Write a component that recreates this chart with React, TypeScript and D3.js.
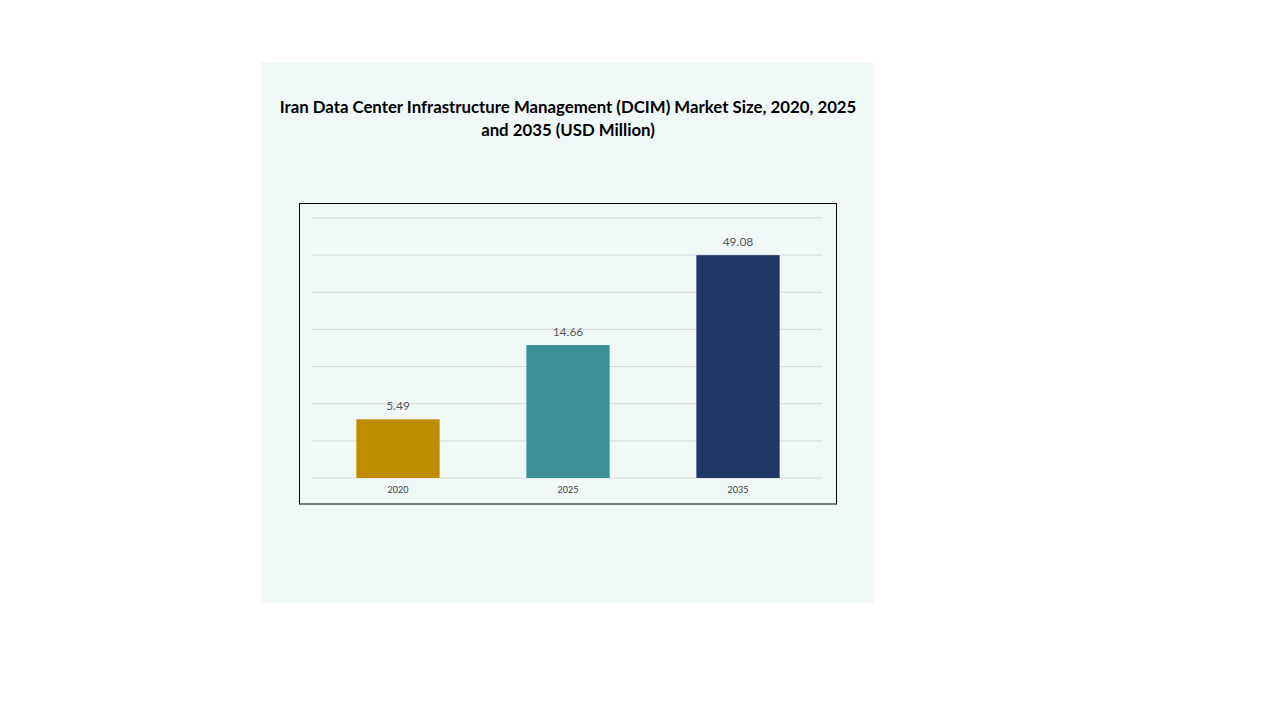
import { useRef, useEffect } from "react";
import * as d3 from "d3";

const FONT = "'Lato', 'Noto Sans', sans-serif";

const TITLE_LINES = [
  "Iran Data Center Infrastructure Management (DCIM) Market Size, 2020, 2025",
  "and 2035 (USD Million)",
];
const YEARS = ["2020", "2025", "2035"];
const VALUES = [5.49, 14.66, 49.08];
// bar heights (the chart's hidden axis, 7 grid steps)
const BAR_LEVELS = [1.58, 3.58, 6.0];
const GRID_TICKS = [0, 1, 2, 3, 4, 5, 6, 7];
const BAR_COLORS = ["#BF8D00", "#3B8F98", "#203864"];

const W = 1280;
const H = 720;

export default function App() {
  const ref = useRef<SVGSVGElement>(null);

  useEffect(() => {
    document.body.style.margin = "0";
    if (!ref.current) return;
    const svg = d3.select(ref.current);
    svg.selectAll("*").remove();

    // panel
    svg.append("rect")
      .attr("x", 261).attr("y", 62).attr("width", 613).attr("height", 541)
      .attr("fill", "#F1F8F8");

    // title
    const title = svg.append("text")
      .attr("text-anchor", "middle")
      .attr("font-family", FONT).attr("font-weight", 700)
      .attr("font-size", "16.8px").attr("fill", "#000");
    TITLE_LINES.forEach((t, i) => {
      title.append("tspan")
        .attr("x", 568).attr("y", 113 + i * 23)
        .text(t);
    });

    // plot frame
    svg.append("rect")
      .attr("x", 299.5).attr("y", 203.5).attr("width", 537).attr("height", 300.5)
      .attr("fill", "none").attr("stroke", "#000").attr("stroke-width", 1);

    const mg = { l: 312, r: 822, t: 218, b: 478 };

    const x = d3.scaleBand<string>()
      .domain(YEARS)
      .range([mg.l + 1, mg.r + 1])
      .paddingInner(0.51)
      .paddingOuter(0.255);

    const y = d3.scaleLinear()
      .domain([0, 7])
      .range([mg.b, mg.t]);

    // grid
    svg.append("g").selectAll("line").data(GRID_TICKS).join("line")
      .attr("x1", mg.l).attr("x2", mg.r)
      .attr("y1", (d) => y(d)).attr("y2", (d) => y(d))
      .attr("stroke", "#D9D9D9").attr("stroke-width", 1);

    // bars
    svg.append("g").selectAll("rect").data(YEARS).join("rect")
      .attr("x", (d) => x(d)!)
      .attr("width", x.bandwidth())
      .attr("y", (_d, i) => y(BAR_LEVELS[i]))
      .attr("height", (_d, i) => y(0) - y(BAR_LEVELS[i]))
      .attr("fill", (_d, i) => BAR_COLORS[i]);

    // value labels
    svg.append("g").selectAll("text").data(YEARS).join("text")
      .attr("x", (d) => x(d)! + x.bandwidth() / 2)
      .attr("y", (_d, i) => y(BAR_LEVELS[i]) - 9)
      .attr("text-anchor", "middle")
      .attr("font-family", FONT).attr("font-size", "12px")
      .attr("fill", "#595959")
      .text((_d, i) => VALUES[i].toFixed(2));

    // x-axis labels
    svg.append("g")
      .attr("transform", `translate(0,${mg.b})`)
      .call(d3.axisBottom(x).tickSize(0).tickPadding(9))
      .call((g) => g.select(".domain").remove())
      .selectAll("text")
      .attr("font-family", FONT).attr("font-size", "9px")
      .attr("fill", "#404040");
  }, []);

  return <svg ref={ref} width={W} height={H} style={{ display: "block", background: "#fff" }} />;
}
